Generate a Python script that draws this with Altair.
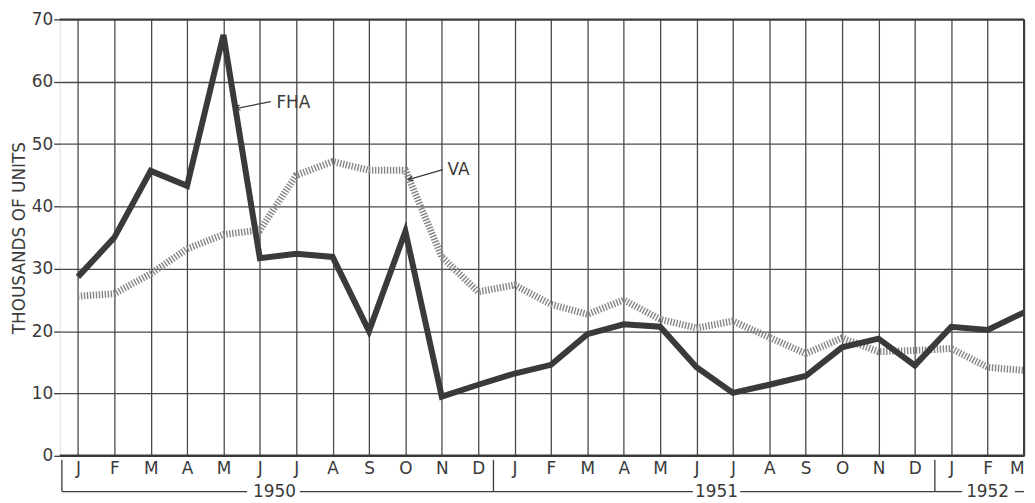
import altair as alt
import pandas as pd

months = ['J', 'F', 'M', 'A', 'M', 'J', 'J', 'A', 'S', 'O', 'N', 'D',
          'J', 'F', 'M', 'A', 'M', 'J', 'J', 'A', 'S', 'O', 'N', 'D',
          'J', 'F', 'M']
fha = [28.7, 35.0, 45.7, 43.3, 67.5, 31.7, 32.4, 31.9, 20.0, 36.0, 9.5, 11.4,
       13.2, 14.6, 19.5, 21.1, 20.7, 14.2, 10.1, 11.4, 12.8, 17.4, 18.8, 14.5,
       20.7, 20.2, 23.0]
va = [25.6, 26.0, 29.2, 33.2, 35.5, 36.2, 45.0, 47.2, 45.8, 45.8, 31.9, 26.3,
      27.4, 24.3, 22.7, 25.0, 21.9, 20.5, 21.6, 19.0, 16.4, 18.9, 16.7, 16.9,
      17.2, 14.2, 13.7]
years = ['1950', '1951', '1952']
year_centers = [5.4, 17.55, 25.0]
y_ticks = [0, 10, 20, 30, 40, 50, 60, 70]

FONT = "DejaVu Sans"
INK = "#3a3a3a"
W, H = 970, 439

idx = list(range(len(months)))
last = idx[-1]
df_fha = pd.DataFrame({"i": idx, "v": fha})
df_va = pd.DataFrame({"i": idx, "v": va})

label_expr = "[" + ",".join("'%s'" % m for m in months) + "][datum.value]"

xscale = alt.Scale(domain=[-0.5, 26], nice=False, zero=False)
yscale = alt.Scale(domain=[0, 70], nice=False)

x_axis = alt.Axis(values=idx, labelExpr=label_expr, title=None, grid=True,
                  gridColor="#4a4a4a", gridWidth=1.3, ticks=False, domain=False,
                  labelFont=FONT, labelFontSize=17, labelColor=INK,
                  labelPadding=5, labelOverlap=False, labelFlush=False,
                  labelAlign=alt.ConditionalAxisString(
                      condition={"test": "datum.value == %d" % last, "value": "right"},
                      value="center"))
y_axis = alt.Axis(values=y_ticks, title="THOUSANDS OF UNITS", grid=True,
                  gridColor="#4a4a4a", gridWidth=1.3, domain=False,
                  tickSize=6, tickColor=INK, tickWidth=1.3,
                  labelFont=FONT, labelFontSize=17, labelColor=INK, labelPadding=1,
                  titleFont=FONT, titleFontSize=17, titleFontWeight="normal",
                  titleColor=INK, titlePadding=3)


def X(field):
    return alt.X(field, type="quantitative", scale=xscale, axis=x_axis)


def Y(field):
    return alt.Y(field, type="quantitative", scale=yscale, axis=y_axis)


va_line = alt.Chart(df_va).mark_line(
    color="#858585", strokeWidth=7, strokeDash=[1.4, 1.6], strokeCap="butt"
).encode(x=X("i"), y=Y("v"))

fha_line = alt.Chart(df_fha).mark_line(
    color=INK, strokeWidth=6, strokeJoin="miter"
).encode(x=X("i"), y=Y("v"))

# frame lines (top, bottom, right)
frame_h = pd.DataFrame({"y": [0, 70], "w": [2.5, 2.0]})
frame_lines = alt.Chart(frame_h).mark_rule(color=INK).encode(
    y=Y("y"),
    x=alt.value(0), x2=alt.value(W),
    strokeWidth=alt.StrokeWidth("w:Q", scale=None),
)
right_edge = alt.Chart(pd.DataFrame({"i": [last]})).mark_rule(color=INK, strokeWidth=2).encode(
    x=X("i"), y=alt.value(0), y2=alt.value(H)
)

# annotations
ann_text = pd.DataFrame({"i": [5.4, 10.1], "v": [56.6, 45.8], "t": ["FHA", "VA"]})
ann = alt.Chart(ann_text).mark_text(
    align="left", baseline="middle", font=FONT, fontSize=17, color=INK, dx=2
).encode(x=X("i"), y=Y("v"), text="t:N")

arrows = pd.DataFrame({"i": [5.3, 10.03], "v": [56.8, 45.9],
                       "i2": [4.33, 9.08], "v2": [55.7, 44.3]})
arrow_lines = alt.Chart(arrows).mark_rule(color=INK, strokeWidth=1.2).encode(
    x=X("i"), y=Y("v"), x2="i2:Q", y2="v2:Q"
)
heads = pd.DataFrame({"i": [4.33, 9.08], "v": [55.7, 44.3], "a": [349, 344]})
arrow_heads = alt.Chart(heads).mark_point(
    shape="M1.2,-0.7L0,0L1.2,0.7", filled=False, color=INK, strokeWidth=1.2,
    size=60, opacity=1
).encode(x=X("i"), y=Y("v"), angle=alt.Angle("a:Q", scale=None))

# year brackets below the axis
seps = pd.DataFrame({"i": [-0.44, 11.42, 23.55]})
sep_lines = alt.Chart(seps).mark_rule(color=INK, strokeWidth=1.3).encode(
    x=X("i"), y=alt.value(H + 4), y2=alt.value(H + 36)
)
segs = pd.DataFrame({"a": [-0.44, 6.1, 11.42, 18.2, 23.55, 25.75],
                     "b": [4.65, 11.42, 16.9, 23.55, 24.3, 26.0]})
seg_lines = alt.Chart(segs).mark_rule(color=INK, strokeWidth=1.3).encode(
    x=X("a"), x2="b:Q", y=alt.value(H + 36)
)
yr = pd.DataFrame({"i": year_centers, "t": years})
yr_text = alt.Chart(yr).mark_text(
    font=FONT, fontSize=17, color=INK, baseline="middle"
).encode(x=X("i"), y=alt.value(H + 36), text="t:N")

chart = alt.layer(
    va_line, fha_line, frame_lines, right_edge, ann, arrow_lines, arrow_heads,
    sep_lines, seg_lines, yr_text
).properties(
    width=W, height=H,
    autosize=alt.AutoSizeParams(type="none"),
    padding={"left": 52, "top": 10, "right": 3, "bottom": 45},
).configure_view(strokeWidth=0, stroke="transparent").configure(background="white")

chart.save("out.html", embed_options={"renderer": "svg", "actions": False})
